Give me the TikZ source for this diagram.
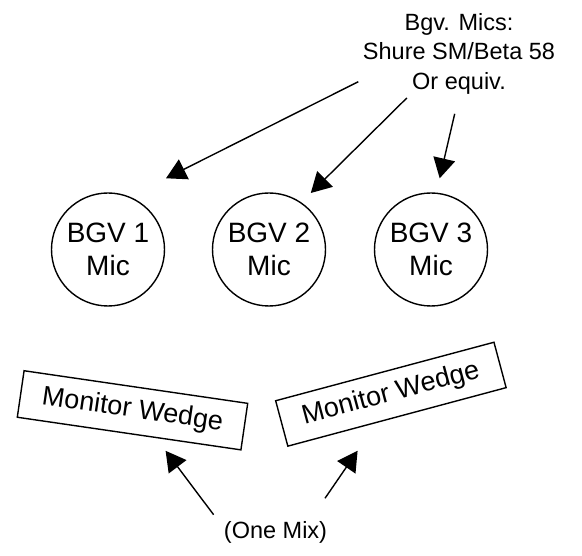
\documentclass[tikz,border=0pt]{standalone}
\usepackage{fontspec}
\setmainfont{Liberation Sans}
\usetikzlibrary{arrows.meta}

\begin{document}
\begin{tikzpicture}[x=1pt, y=-1pt,
  mic/.style={draw, circle, line width=1.4pt, minimum size=113pt, inner sep=0pt, align=center, font=\fontsize{28}{32.7}\selectfont},
  wedge/.style={draw, rectangle, line width=1.4pt, minimum width=226pt, minimum height=47pt, inner sep=0pt, font=\fontsize{27}{30}\selectfont},
  note/.style={inner sep=0pt, align=center, font=\fontsize{23.5}{29.5}\selectfont},
  arr/.style={line width=1.4pt, -{Triangle[length=20pt, width=22pt]}}]
\useasboundingbox (0,0) rectangle (582,556);

\node[note, anchor=north] (bgvnote) at (459,13) {Bgv. Mics:\\Shure SM/Beta 58\\Or equiv.};
\node[mic] (mic1) at (108,249.5) {BGV 1\\Mic};
\node[mic] (mic2) at (269,249.5) {BGV 2\\Mic};
\node[mic] (mic3) at (431,249.5) {BGV 3\\Mic};
\node[wedge, rotate=-8.3] (wedgeL) at (132.5,410.3) {Monitor Wedge};
\node[wedge, rotate=15] (wedgeR) at (390.9,394.2) {Monitor Wedge};
\node[note, anchor=base] (onemix) at (275.5,539) {(One Mix)};

\coordinate (note1) at (358.3,81.7);
\coordinate (note2) at (406.8,98);
\coordinate (note3) at (454.7,113.8);
\coordinate (tip1) at (166,178.3);
\coordinate (tip2) at (310.8,193);
\coordinate (tip3) at (439.7,178.3);
\coordinate (mixL) at (213.6,514.7);
\coordinate (mixR) at (325,498.3);
\coordinate (tipL) at (165.6,450.8);
\coordinate (tipR) at (357.6,450.8);

\draw[arr] (note1) -- (tip1);
\draw[arr] (note2) -- (tip2);
\draw[arr] (note3) -- (tip3);
\draw[arr] (mixL) -- (tipL);
\draw[arr] (mixR) -- (tipR);
\end{tikzpicture}
\end{document}
